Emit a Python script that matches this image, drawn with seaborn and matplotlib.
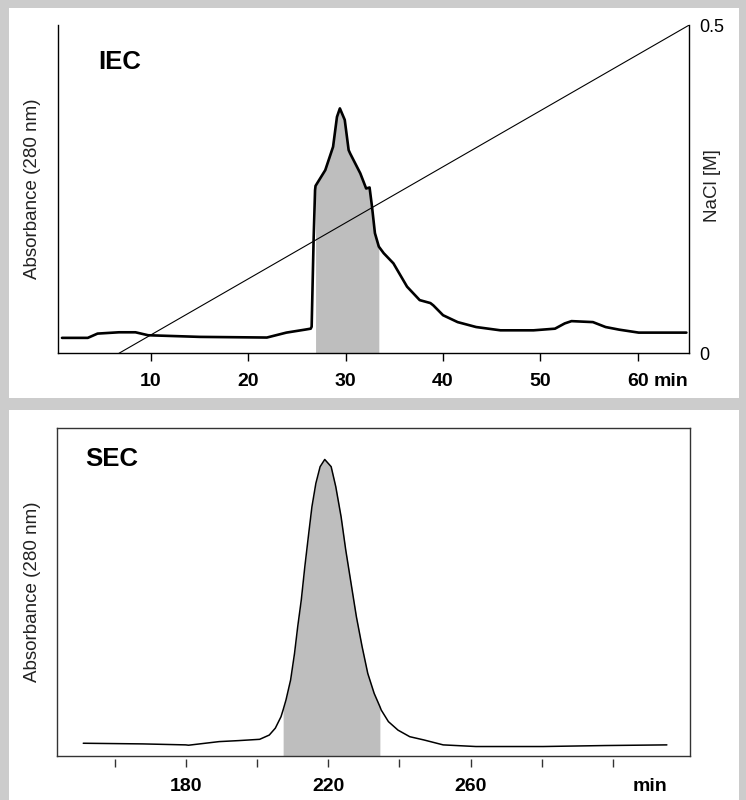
import numpy as np
import pandas as pd
import matplotlib
matplotlib.use("Agg")
import matplotlib.pyplot as plt
from matplotlib.patches import Rectangle
from matplotlib.transforms import ScaledTranslation
import seaborn as sns

# ---------------- data ----------------
iec_time = [0.85, 3.5, 4.5, 6.7, 8.4, 9.7, 15.0, 21.9, 23.9, 25.8, 26.4, 26.5, 26.7,
            26.85, 26.9, 27.4, 27.9, 28.7, 29.1, 29.4, 29.9, 30.3, 30.45, 31.5, 32.1,
            32.45, 32.7, 33.0, 33.4, 33.9, 34.9, 36.3, 37.6, 38.7, 39.0, 40.0, 41.5,
            43.4, 45.9, 49.3, 51.5, 52.5, 53.2, 55.4, 56.7, 58.1, 60.1, 65.0]
iec_abs = [0.047, 0.047, 0.060, 0.064, 0.064, 0.055, 0.050, 0.048, 0.063, 0.072, 0.075,
           0.081, 0.345, 0.497, 0.510, 0.534, 0.558, 0.629, 0.720, 0.746, 0.711, 0.619,
           0.609, 0.548, 0.502, 0.505, 0.447, 0.366, 0.325, 0.305, 0.274, 0.203, 0.162,
           0.153, 0.146, 0.116, 0.095, 0.080, 0.070, 0.070, 0.075, 0.091, 0.098, 0.095,
           0.080, 0.072, 0.063, 0.063]
iec_band = [26.9, 33.4]
gradient_time = [6.7, 65.3]
gradient_nacl = [0.0, 0.5]
iec_ticks = [10, 20, 30, 40, 50, 60]
iec_ticklabels = ["10", "20", "30", "40", "50", "60"]
nacl_ticks = [0, 0.5]
nacl_ticklabels = ["0", "0.5"]

sec_time = [151.1, 167.8, 179.9, 180.7, 189.3, 194.7, 200.7, 203.4, 205.1, 206.7, 207.3,
            208.1, 209.4, 210.5, 211.4, 212.4, 213.4, 214.5, 215.4, 216.5, 217.7, 219.0,
            220.8, 222.1, 223.6, 224.9, 226.4, 227.9, 229.5, 231.1, 232.9, 234.5, 234.9,
            236.9, 239.6, 242.9, 246.9, 252.3, 261.5, 280.4, 297.8, 315.2]
sec_abs = [0.038, 0.036, 0.033, 0.032, 0.043, 0.046, 0.050, 0.063, 0.084, 0.119, 0.140,
           0.170, 0.231, 0.312, 0.394, 0.475, 0.577, 0.679, 0.760, 0.831, 0.882, 0.904,
           0.882, 0.821, 0.729, 0.628, 0.526, 0.424, 0.333, 0.251, 0.190, 0.150, 0.139,
           0.104, 0.078, 0.058, 0.048, 0.033, 0.028, 0.028, 0.031, 0.033]
sec_band = [207.3, 234.5]
sec_ticks = [160, 180, 200, 220, 240, 260, 280, 300]
sec_ticklabels = ["", "180", "", "220", "", "260", "", ""]

# ---------------- style ----------------
sns.set_style("white")
plt.rcParams["font.family"] = ["Liberation Sans", "DejaVu Sans"]
plt.rcParams["text.color"] = "black"
plt.rcParams["axes.labelcolor"] = "black"
plt.rcParams["xtick.color"] = "black"
plt.rcParams["ytick.color"] = "black"

W, H = 746, 800
fig = plt.figure(figsize=(W / 100, H / 100), dpi=100)
fig.patch.set_facecolor("#cccccc")
fig.add_artist(Rectangle((9 / W, 1 - 398 / H), (739 - 9) / W, (398 - 8) / H,
                         transform=fig.transFigure, facecolor="white", edgecolor="none", zorder=0))
fig.add_artist(Rectangle((9 / W, 0), (739 - 9) / W, (800 - 410) / H,
                         transform=fig.transFigure, facecolor="white", edgecolor="none", zorder=0))

def box(l, t, r, b):
    return [l / W, 1 - b / H, (r - l) / W, (b - t) / H]

band_color = "#bebebe"
TICK_FS = 14
TICK_LEN = 6
TICK_PAD = 8

# ---------------- IEC panel ----------------
ax1 = fig.add_axes(box(58.3, 25, 689.3, 353.3))
iec = pd.DataFrame({"time": iec_time, "abs": iec_abs})
t = np.array(iec_time)
a = np.array(iec_abs)
mask = (t >= iec_band[0]) & (t <= iec_band[1])
ax1.fill_between(t, 0, a, where=mask, color=band_color, linewidth=0, zorder=1)
sns.lineplot(data=iec, x="time", y="abs", ax=ax1, color="black", linewidth=1.9, zorder=3)
ax1.set_xlim(0.47, 65.3)
ax1.set_ylim(0, 1)
ax1.set_yticks([])
ax1.set_xticks(iec_ticks)
ax1.set_xticklabels(iec_ticklabels, fontsize=TICK_FS, fontweight="bold")
ax1.tick_params(axis="x", direction="out", length=TICK_LEN, width=1, color="black",
                pad=TICK_PAD, bottom=True)
ax1.set_xlabel("")
ax1.set_ylabel("Absorbance (280 nm)", fontsize=13.5, color="#222222")
ax1.yaxis.set_label_coords(-0.028, 0.5)
off1 = ScaledTranslation(0, -(TICK_LEN + TICK_PAD) / 72, fig.dpi_scale_trans)
ax1.text(63.4, 0, "min", transform=ax1.get_xaxis_transform() + off1, ha="center", va="top",
         fontsize=TICK_FS, fontweight="bold")
ax1.text(0.064, 0.887, "IEC", transform=ax1.transAxes, ha="left", va="center",
         fontsize=18.5, fontweight="bold")
for s in ax1.spines.values():
    s.set_visible(False)
for s in ("left", "bottom", "right"):
    ax1.spines[s].set_visible(True)
    ax1.spines[s].set_color("black")
    ax1.spines[s].set_linewidth(1.0)

ax1r = ax1.twinx()
grad = pd.DataFrame({"time": gradient_time, "nacl": gradient_nacl})
sns.lineplot(data=grad, x="time", y="nacl", ax=ax1r, color="black", linewidth=0.8)
ax1r.set_ylim(0, 0.5)
ax1r.set_xlim(0.47, 65.3)
ax1r.set_yticks(nacl_ticks)
ax1r.set_yticklabels(nacl_ticklabels, fontsize=13)
ax1r.tick_params(axis="y", length=0, pad=7, right=True)
ax1r.set_ylabel("NaCl [M]", fontsize=13.5, color="#222222")
ax1r.yaxis.set_label_coords(1.024, 0.51)
for s in ax1r.spines.values():
    s.set_visible(False)

# ---------------- SEC panel ----------------
ax2 = fig.add_axes(box(57.3, 428, 690, 755.7))
sec = pd.DataFrame({"time": sec_time, "abs": sec_abs})
ts = np.array(sec_time)
as_ = np.array(sec_abs)
mask2 = (ts >= sec_band[0]) & (ts <= sec_band[1])
ax2.fill_between(ts, 0, as_, where=mask2, color=band_color, linewidth=0, zorder=1)
sns.lineplot(data=sec, x="time", y="abs", ax=ax2, color="black", linewidth=1.1, zorder=3)
ax2.set_xlim(143.8, 321.7)
ax2.set_ylim(0, 1)
ax2.set_yticks([])
ax2.set_xticks([])
ax2.set_xlabel("")
ax2.set_ylabel("Absorbance (280 nm)", fontsize=13.5, color="#222222")
ax2.yaxis.set_label_coords(-0.025, 0.5)
ax2.text(0.044, 0.905, "SEC", transform=ax2.transAxes, ha="left", va="center",
         fontsize=18.5, fontweight="bold")
for s in ax2.spines.values():
    s.set_color("#333333")
    s.set_linewidth(1.0)

sec_ax = ax2.secondary_xaxis(-0.010)
sec_ax.set_xticks(sec_ticks)
sec_ax.set_xticklabels(sec_ticklabels, fontsize=TICK_FS, fontweight="bold")
sec_ax.tick_params(axis="x", direction="out", length=TICK_LEN, width=1, color="#333333",
                   pad=TICK_PAD)
sec_ax.spines["bottom"].set_visible(False)
off2 = ScaledTranslation(0, -(TICK_LEN + TICK_PAD) / 72 - 3 / 100, fig.dpi_scale_trans)
ax2.text(310.5, 0, "min", transform=ax2.get_xaxis_transform() + off2, ha="center", va="top",
         fontsize=TICK_FS, fontweight="bold")

fig.savefig("out.png", dpi=100, facecolor=fig.get_facecolor())
